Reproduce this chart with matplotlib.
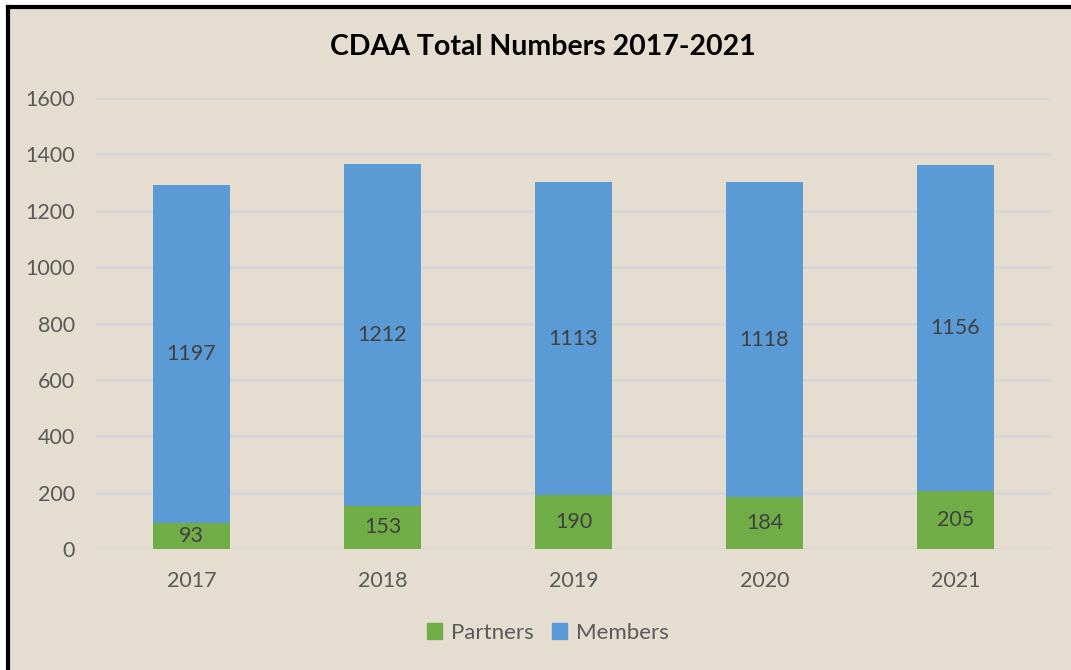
import numpy as np
import matplotlib.pyplot as plt
from matplotlib.patches import Patch

# dados
years = ['2017', '2018', '2019', '2020', '2021']
partners = [93, 153, 190, 184, 205]
members = [1197, 1212, 1113, 1118, 1156]

bg = '#E6DDD1'
green = '#70AD47'
blue = '#5B9BD5'
txt = '#595959'

plt.rcParams['font.family'] = ['Lato', 'DejaVu Sans']

fig = plt.figure(figsize=(10.71, 6.70), dpi=100)
fig.patch.set_facecolor('white')

# fundo bege com borda preta (so topo e esquerda visiveis)
bgax = fig.add_axes([7.5 / 1071, 0, 1 - 7.5 / 1071, 1 - 6.5 / 670])
bgax.set_facecolor(bg)
bgax.set_xticks([])
bgax.set_yticks([])
for s in ['bottom', 'right']:
    bgax.spines[s].set_visible(False)
for s in ['top', 'left']:
    bgax.spines[s].set_linewidth(3)
    bgax.spines[s].set_color('black')

ax = fig.add_axes([96 / 1071, 121 / 670, 955 / 1071, 451 / 670])
ax.patch.set_alpha(0)

x = np.arange(len(years))
w = 0.403
ax.bar(x, partners, w, color=green, label='Partners', zorder=3)
ax.bar(x, members, w, bottom=partners, color=blue, label='Members', zorder=3)

for i in range(len(years)):
    ax.text(x[i], partners[i] / 2, str(partners[i]), ha='center', va='center',
            fontsize=15.5, color='#404040', zorder=4)
    ax.text(x[i], partners[i] + members[i] / 2, str(members[i]), ha='center', va='center',
            fontsize=15.5, color='#404040', zorder=4)

ax.set_xlim(-0.5, len(years) - 0.5)
ax.set_ylim(0, 1600)
ax.set_yticks(range(0, 1601, 200))
ax.grid(axis='y', color='#D6D6D8', linewidth=2, zorder=0)
ax.set_xticks(x)
ax.set_xticklabels(years)
ax.tick_params(axis='both', length=0, labelsize=15.5, labelcolor=txt)
ax.tick_params(axis='x', pad=16)
ax.tick_params(axis='y', pad=15)
for s in ax.spines.values():
    s.set_visible(False)

fig.text(543 / 1071, 1 - 47 / 670, 'CDAA Total Numbers 2017-2021', ha='center', va='center',
         fontsize=20.5, fontweight='bold', color='black')

handles = [Patch(color=green, label='Partners'), Patch(color=blue, label='Members')]
fig.legend(handles=handles, loc='center', bbox_to_anchor=(548 / 1071, 1 - 633 / 670), ncol=2,
           frameon=False, fontsize=16, labelcolor=txt, handlelength=0.7, handleheight=0.7,
           handletextpad=0.4, columnspacing=0.8)

plt.savefig('out.png', dpi=100, facecolor=fig.get_facecolor())
